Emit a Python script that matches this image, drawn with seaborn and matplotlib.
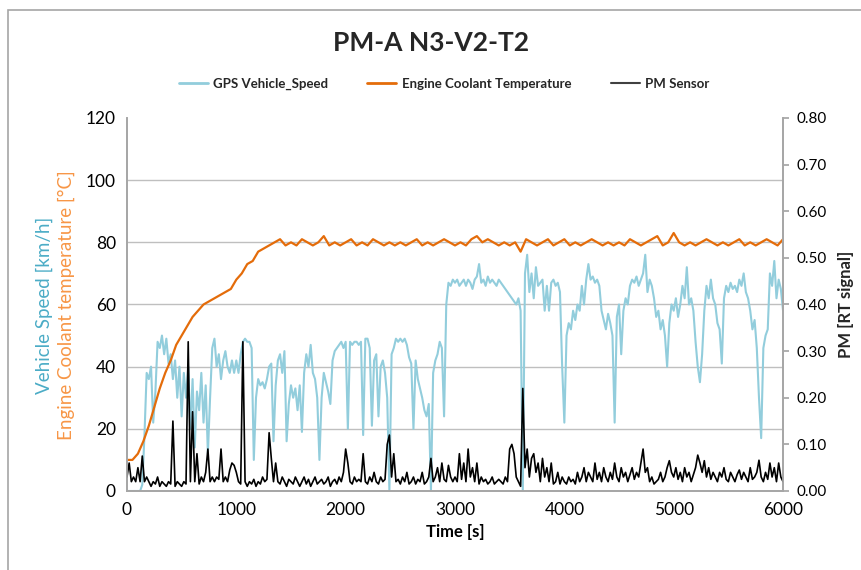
import numpy as np
import pandas as pd
import matplotlib
matplotlib.use('Agg')
import matplotlib.pyplot as plt
from matplotlib.lines import Line2D
from matplotlib.patches import Rectangle
import seaborn as sns

# GPS vehicle speed [km/h], one value every 20 s (rows of 200 s)
speed = [
    0, 0, 0, 0, 0, 0, 0, 2, 18, 38,
    36, 40, 22, 32, 48, 46, 50, 44, 49, 41,
    44, 36, 42, 30, 40, 24, 38, 30, 40, 20,
    36, 14, 32, 26, 38, 22, 34, 12, 30, 46,
    49, 40, 44, 36, 42, 45, 40, 38, 42, 38,
    42, 38, 44, 48, 49, 48, 48, 46, 10, 30,
    36, 34, 35, 33, 36, 40, 41, 16, 34, 42,
    44, 38, 45, 16, 28, 34, 30, 33, 26, 34,
    19, 38, 44, 40, 47, 38, 36, 30, 10, 30,
    38, 35, 32, 28, 42, 45, 46, 47, 48, 46,
    48, 20, 48, 47, 48, 48, 47, 48, 18, 49,
    49, 46, 21, 42, 44, 24, 40, 42, 38, 30,
    0, 44, 46, 49, 48, 49, 48, 49, 47, 43,
    41, 20, 42, 36, 33, 30, 26, 24, 28, 0,
    38, 42, 44, 48, 46, 24, 60, 67, 66, 68,
    67, 68, 66, 67, 68, 66, 68, 67, 65, 68,
    69, 73, 67, 68, 66, 69, 67, 68, 67, 66,
    68, 67, 66, 65, 64, 63, 62, 61, 60, 62,
    58, 0, 70, 76, 64, 70, 62, 72, 66, 67,
    68, 58, 66, 58, 67, 68, 66, 67, 64, 40,
    22, 50, 54, 52, 58, 55, 60, 58, 66, 60,
    68, 73, 68, 69, 67, 68, 66, 58, 55, 52,
    57, 54, 50, 22, 56, 60, 44, 58, 62, 60,
    66, 68, 67, 69, 66, 68, 70, 76, 64, 68,
    66, 62, 56, 58, 52, 55, 50, 40, 54, 60,
    58, 62, 56, 60, 66, 62, 72, 60, 62, 58,
    48, 40, 35, 44, 58, 66, 62, 68, 62, 60,
    54, 52, 41, 62, 66, 64, 67, 65, 66, 64,
    68, 66, 70, 64, 62, 58, 52, 55, 46, 30,
    17, 46, 50, 52, 70, 66, 74, 62, 68, 65,
    58,
]

# engine coolant temperature [°C], one value every 50 s (rows of 500 s)
coolant = [
    10, 10, 12, 16, 21, 27, 33, 38, 42, 47,
    50, 53, 56, 58, 60, 61, 62, 63, 64, 65,
    68, 70, 73, 74, 77, 78, 79, 80, 81, 79,
    80, 79, 81, 80, 79, 80, 82, 79, 80, 79,
    80, 81, 79, 80, 79, 81, 80, 79, 80, 79,
    80, 79, 80, 81, 79, 80, 79, 80, 81, 80,
    79, 80, 79, 81, 82, 80, 81, 80, 79, 80,
    79, 80, 77, 81, 80, 79, 80, 81, 79, 80,
    81, 79, 80, 79, 80, 81, 80, 79, 80, 79,
    80, 79, 81, 80, 79, 80, 81, 82, 79, 80,
    83, 80, 79, 80, 79, 80, 81, 80, 79, 80,
    79, 80, 81, 79, 80, 79, 80, 81, 80, 79,
    81,
]

# PM sensor [RT signal], one value every 20 s (rows of 200 s)
pm = [
    0.03, 0.06, 0.02, 0.03, 0.02, 0.05, 0.02, 0.075, 0.02, 0.03,
    0.02, 0.01, 0.02, 0.015, 0.03, 0.01, 0.02, 0.015, 0.01, 0.02,
    0.015, 0.15, 0.01, 0.02, 0.015, 0.01, 0.02, 0.015, 0.32, 0.02,
    0.17, 0.02, 0.08, 0.015, 0.03, 0.02, 0.04, 0.09, 0.02, 0.03,
    0.02, 0.03, 0.025, 0.09, 0.02, 0.03, 0.02, 0.045, 0.06, 0.055,
    0.04, 0.02, 0.015, 0.32, 0.02, 0.01, 0.02, 0.015, 0.025, 0.01,
    0.02, 0.015, 0.03, 0.02, 0.025, 0.125, 0.07, 0.02, 0.06, 0.02,
    0.015, 0.03, 0.02, 0.01, 0.025, 0.02, 0.015, 0.03, 0.02, 0.01,
    0.02, 0.03, 0.015, 0.025, 0.01, 0.02, 0.03, 0.015, 0.02, 0.025,
    0.015, 0.02, 0.03, 0.01, 0.02, 0.025, 0.015, 0.03, 0.02, 0.04,
    0.09, 0.06, 0.02, 0.015, 0.03, 0.02, 0.025, 0.02, 0.08, 0.02,
    0.015, 0.03, 0.02, 0.04, 0.02, 0.015, 0.03, 0.02, 0.025, 0.1,
    0.12, 0.03, 0.08, 0.02, 0.025, 0.015, 0.03, 0.02, 0.04, 0.015,
    0.02, 0.03, 0.015, 0.025, 0.02, 0.04, 0.015, 0.02, 0.03, 0.07,
    0.02, 0.03, 0.05, 0.02, 0.06, 0.025, 0.02, 0.055, 0.03, 0.02,
    0.03, 0.02, 0.08, 0.025, 0.06, 0.02, 0.09, 0.03, 0.05, 0.02,
    0.06, 0.015, 0.03, 0.02, 0.025, 0.015, 0.02, 0.03, 0.015, 0.02,
    0.025, 0.02, 0.015, 0.03, 0.02, 0.09, 0.1, 0.08, 0.03, 0.02,
    0.01, 0.22, 0.05, 0.09, 0.03, 0.07, 0.08, 0.04, 0.06, 0.02,
    0.07, 0.03, 0.05, 0.02, 0.06, 0.015, 0.02, 0.04, 0.015, 0.03,
    0.02, 0.015, 0.03, 0.02, 0.025, 0.015, 0.04, 0.02, 0.03, 0.05,
    0.02, 0.04, 0.03, 0.02, 0.06, 0.025, 0.04, 0.02, 0.05, 0.03,
    0.02, 0.04, 0.025, 0.06, 0.03, 0.02, 0.05, 0.03, 0.04, 0.02,
    0.035, 0.05, 0.025, 0.04, 0.03, 0.06, 0.09, 0.04, 0.05, 0.02,
    0.03, 0.015, 0.02, 0.025, 0.04, 0.02, 0.03, 0.05, 0.065, 0.04,
    0.03, 0.05, 0.025, 0.04, 0.02, 0.05, 0.03, 0.04, 0.02, 0.035,
    0.05, 0.077, 0.06, 0.04, 0.065, 0.03, 0.05, 0.025, 0.04, 0.03,
    0.02, 0.04, 0.03, 0.05, 0.025, 0.02, 0.04, 0.03, 0.02, 0.035,
    0.045, 0.025, 0.04, 0.03, 0.02, 0.05, 0.025, 0.03, 0.04, 0.066,
    0.03, 0.02, 0.04, 0.025, 0.06, 0.03, 0.05, 0.02, 0.06, 0.03,
    0.02,
]

speed_df = pd.DataFrame({'time': np.arange(len(speed)) * 20, 'speed': speed})
temp_df = pd.DataFrame({'time': np.arange(len(coolant)) * 50, 'temp': coolant})
pm_df = pd.DataFrame({'time': np.arange(len(pm)) * 20, 'pm': pm})

sns.set_theme(style='white')
plt.rcParams['font.family'] = ['Lato', 'DejaVu Sans']

c_speed = '#92CDDC'
c_temp = '#E46C0A'
c_pm = '#000000'
grid_c = '#BFBFBF'

fig = plt.figure(figsize=(8.62, 5.70), dpi=100)
ax1 = fig.add_axes([0.1473, 0.1386, 0.7611, 0.6544])

sns.lineplot(data=speed_df, x='time', y='speed', color=c_speed, linewidth=1.5,
             estimator=None, ax=ax1)
sns.lineplot(data=temp_df, x='time', y='temp', color=c_temp, linewidth=1.6,
             estimator=None, ax=ax1)

ax1.set_xlim(0, 6000)
ax1.set_ylim(0, 120)
ax1.set_xticks(np.arange(0, 6001, 1000))
ax1.set_yticks(np.arange(0, 121, 20))
for yv in range(20, 101, 20):
    ax1.axhline(yv, color=grid_c, linewidth=1, zorder=0)
ax1.set_xlabel('Time [s]', fontsize=12, fontweight='bold', color='#000000')
ax1.set_ylabel('')
ax1.tick_params(axis='both', labelsize=12.5, colors='#000000', length=0, pad=8)
ax1.spines['top'].set_visible(False)
for side in ['left', 'bottom', 'right']:
    ax1.spines[side].set_color('#A6A6A6')

ax2 = ax1.twinx()
sns.lineplot(data=pm_df, x='time', y='pm', color=c_pm, linewidth=1.2,
             estimator=None, ax=ax2)
ax2.set_ylim(0, 0.8)
ax2.set_yticks(np.arange(0, 0.81, 0.1))
ax2.set_yticklabels([f'{v:.2f}' for v in np.arange(0, 0.81, 0.1)])
ax2.tick_params(axis='y', labelsize=11, colors='#404040', length=4, direction='out',
                color='#A6A6A6', pad=6)
for lbl in ax2.get_yticklabels():
    lbl.set_color('#000000')
ax2.set_ylabel('PM [RT signal]', fontsize=12, fontweight='bold', labelpad=8)
ax2.spines['top'].set_visible(False)
for side in ['left', 'bottom', 'right']:
    ax2.spines[side].set_color('#A6A6A6')

fig.text(0.052, 0.465, 'Vehicle Speed [km/h]', rotation=90, ha='center', va='center',
         fontsize=13.5, color='#4BACC6')
fig.text(0.077, 0.465, 'Engine Coolant temperature [°C]', rotation=90, ha='center',
         va='center', fontsize=13.5, color='#F79646')

fig.text(0.5, 0.925, 'PM-A N3-V2-T2', ha='center', va='center', fontsize=19,
         fontweight='bold')

handles = [Line2D([0], [0], color=c_speed, linewidth=2),
           Line2D([0], [0], color=c_temp, linewidth=2),
           Line2D([0], [0], color='#404040', linewidth=1.5)]
fig.legend(handles, ['GPS Vehicle_Speed', 'Engine Coolant Temperature', 'PM Sensor'],
           loc='center', bbox_to_anchor=(0.515, 0.853), ncol=3, frameon=False,
           prop={'size': 9.5, 'weight': 'bold'}, handlelength=2.2, handletextpad=0.4,
           columnspacing=3.0)

fig.patches.append(Rectangle((0.009, -0.02), 1.1, 1.002, transform=fig.transFigure,
                             fill=False, edgecolor='#A6A6A6', linewidth=1.2))

fig.savefig('out.png', dpi=100)
